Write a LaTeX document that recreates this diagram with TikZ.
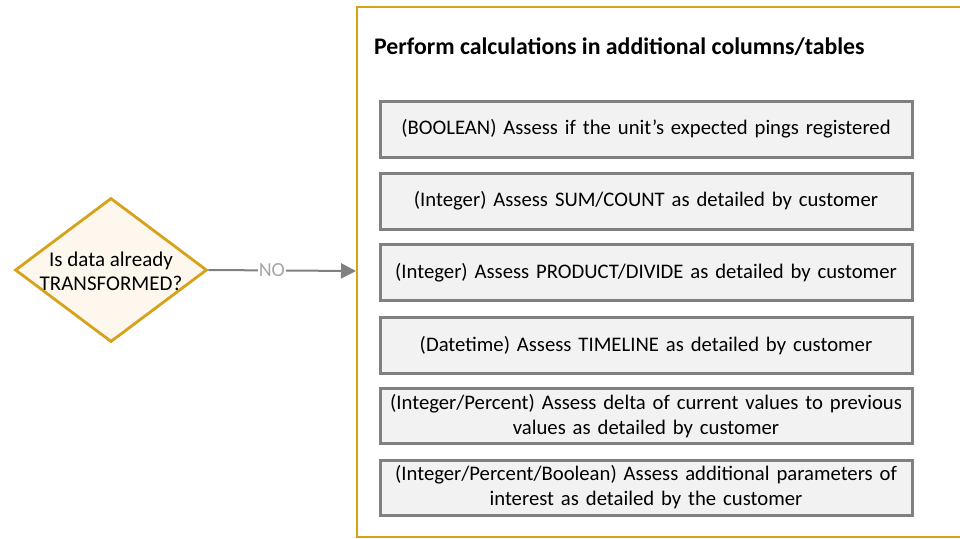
\documentclass[tikz,border=0pt]{standalone}
\usepackage{fontspec}
\setmainfont{Carlito}
\usetikzlibrary{shapes.geometric,arrows.meta}
\definecolor{gold}{RGB}{214,162,26}
\definecolor{dfill}{RGB}{254,247,238}
\definecolor{bfill}{RGB}{242,242,242}
\definecolor{bline}{RGB}{128,128,128}
\definecolor{notext}{RGB}{166,166,166}
\tikzset{
  container/.style={draw=gold,line width=2.8pt,fill=white,minimum width=640pt,minimum height=530pt,inner sep=0pt},
  calcbox/.style={draw=bline,line width=3pt,fill=bfill,minimum width=532pt,text width=525pt,align=center,font=\fontsize{20.7}{25}\selectfont,inner sep=0pt},
  decision/.style={diamond,draw=gold,line width=2.8pt,fill=dfill,minimum width=192pt,minimum height=144pt,inner sep=0pt},
  dtext/.style={align=center,font=\fontsize{21}{24}\selectfont,inner sep=0pt},
  flow/.style={draw=bline,line width=2pt,-{Triangle[length=15pt,width=15pt]}},
  nolabel/.style={fill=white,text=notext,font=\fontsize{20}{22}\selectfont,inner sep=1pt}
}
\begin{document}
\begin{tikzpicture}[x=1pt,y=-1pt]
\useasboundingbox (0,0) rectangle (960,538);
\clip (0,0) rectangle (960,538);
\fill[white] (0,0) rectangle (960,538);
\node[container] (cont) at (677,272) {};
\coordinate (contin) at (356,271);
\node[anchor=west,font=\bfseries\fontsize{23.8}{26}\selectfont,inner sep=0pt] (title) at (374,47) {Perform calculations in additional columns/tables};
\node[calcbox,minimum height=56pt] (b1) at (646,129) {(BOOLEAN) Assess if the unit’s expected pings registered};
\node[calcbox,minimum height=56pt] (b2) at (646,201) {(Integer) Assess SUM/COUNT as detailed by customer};
\node[calcbox,minimum height=56pt] (b3) at (646,272.5) {(Integer) Assess PRODUCT/DIVIDE as detailed by customer};
\node[calcbox,minimum height=56pt] (b4) at (646,345.5) {(Datetime) Assess TIMELINE as detailed by customer};
\node[calcbox,minimum height=55pt] (b5) at (646,416) {(Integer/Percent) Assess delta of current values to previous\\values as detailed by customer};
\node[calcbox,minimum height=55pt] (b6) at (646,487.5) {(Integer/Percent/Boolean) Assess additional parameters of\\interest as detailed by the customer};
\node[decision] (d) at (111,270) {};
\node[dtext] (dt) at (111,271) {Is data already\\TRANSFORMED?};
\draw[flow] (d.east) -- (contin) node[nolabel,pos=0.43] (no) {NO};
\end{tikzpicture}
\end{document}
